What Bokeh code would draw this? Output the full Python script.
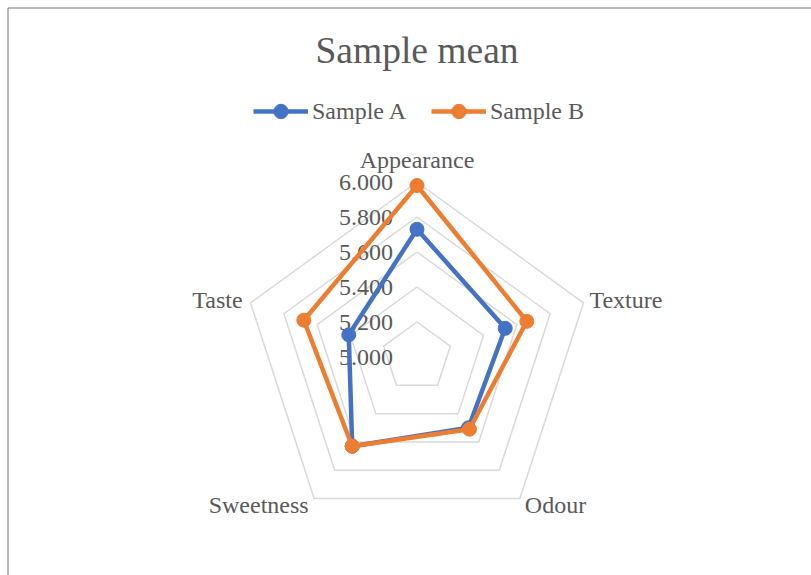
import numpy as np
from bokeh.plotting import figure
from bokeh.models import Range1d, Legend, LegendItem, Label, ColumnDataSource
from bokeh.core.properties import value
from bokeh.embed import file_html
from bokeh.resources import INLINE

# ---------------- data ----------------
categories = ["Appearance", "Texture", "Odour", "Sweetness", "Taste"]
sample_a = [5.73, 5.53, 5.50, 5.63, 5.41]
sample_b = [5.98, 5.66, 5.51, 5.63, 5.68]
series_names = ["Sample A", "Sample B"]
tick_values = [5.0, 5.2, 5.4, 5.6, 5.8, 6.0]
tick_labels = ["5.000", "5.200", "5.400", "5.600", "5.800", "6.000"]
title_text = "Sample mean"

# ---------------- layout / style ----------------
W, H = 811, 575
CX, CY = 416.5, 356.5        # pixel position of radar centre
PX = 175.0                   # pixels per value unit
VMIN, VMAX = tick_values[0], tick_values[-1]
FONT = "Liberation Serif"
TXT = "#595959"
GRID = "#d9d9d9"
COLORS = ["#4472C4", "#ED7D31"]
LABEL_SIZE = "24px"
TITLE_SIZE = "37.5px"

n = len(categories)
angles = np.pi / 2 - 2 * np.pi * np.arange(n) / n


def polar(vals):
    r = np.asarray(vals, dtype=float) - VMIN
    return r * np.cos(angles), r * np.sin(angles)


def px_to_data_x(px):
    return (px - CX) / PX


def px_to_data_y(py):
    return (CY - py) / PX


p = figure(width=W, height=H,
           x_range=Range1d(px_to_data_x(0), px_to_data_x(W)),
           y_range=Range1d(px_to_data_y(H), px_to_data_y(0)),
           x_axis_location=None, y_axis_location=None,
           toolbar_location=None, output_backend="svg",
           min_border=0, outline_line_color=None)
p.grid.visible = False
p.background_fill_color = "white"
p.border_fill_color = "white"

# chart border (top and left visible)
p.segment(x0=[px_to_data_x(7.5), px_to_data_x(7.5)],
          y0=[px_to_data_y(7.5), px_to_data_y(7.5)],
          x1=[px_to_data_x(W + 5), px_to_data_x(7.5)],
          y1=[px_to_data_y(7.5), px_to_data_y(H + 5)],
          line_color="#767676", line_width=1)

# grid pentagons
gx, gy = [], []
for t in tick_values[1:]:
    x, y = polar([t] * n)
    gx.append(list(x) + [x[0]])
    gy.append(list(y) + [y[0]])
p.multi_line(gx, gy, line_color=GRID, line_width=1.5)

# radial tick labels
p.text(x=[0.0] * len(tick_values), y=[t - VMIN for t in tick_values],
       text=tick_labels, x_offset=-24, text_align="right", text_baseline="middle",
       text_font=value(FONT), text_font_size=LABEL_SIZE, text_color=TXT)

# category labels
ox, oy = polar([VMAX] * n)
aligns, xo, yo = [], [], []
for a in angles:
    c, s = np.cos(a), np.sin(a)
    if abs(c) < 0.1:
        aligns.append("center"); xo.append(0); yo.append(-22.5)
    elif s > 0:
        aligns.append("left" if c > 0 else "right")
        xo.append(6 if c > 0 else -8); yo.append(-2.5)
    else:
        aligns.append("left" if c > 0 else "right")
        xo.append(5 if c > 0 else -5.5); yo.append(6)
cat_src = ColumnDataSource(dict(x=ox, y=oy, text=categories, align=aligns, xo=xo, yo=yo))
p.text(x="x", y="y", text="text", source=cat_src, text_align="align",
       x_offset="xo", y_offset="yo", text_baseline="middle",
       text_font=value(FONT), text_font_size=LABEL_SIZE, text_color=TXT)

# series
items = []
for name, vals, col in zip(series_names, [sample_a, sample_b], COLORS):
    x, y = polar(vals)
    lr = p.line(list(x) + [x[0]], list(y) + [y[0]], line_color=col, line_width=4.5,
                line_join="round")
    sr = p.scatter(x, y, size=14, fill_color=col, line_color=col, marker="circle")
    items.append(LegendItem(label=name, renderers=[lr, sr]))

legend = Legend(items=items, orientation="horizontal", location=(253, H - 129),
                glyph_width=55, glyph_height=36, label_standoff=4, spacing=25,
                padding=0, margin=0, border_line_color=None, background_fill_alpha=0,
                label_text_font=FONT, label_text_font_size=LABEL_SIZE,
                label_text_color=TXT, label_height=36)
p.add_layout(legend)

p.add_layout(Label(x=CX, y=H - 50, x_units="screen", y_units="screen", text=title_text,
                   text_align="center", text_baseline="middle", text_font=FONT,
                   text_font_size=TITLE_SIZE, text_color=TXT))

open("out.html", "w").write(file_html(p, INLINE))
